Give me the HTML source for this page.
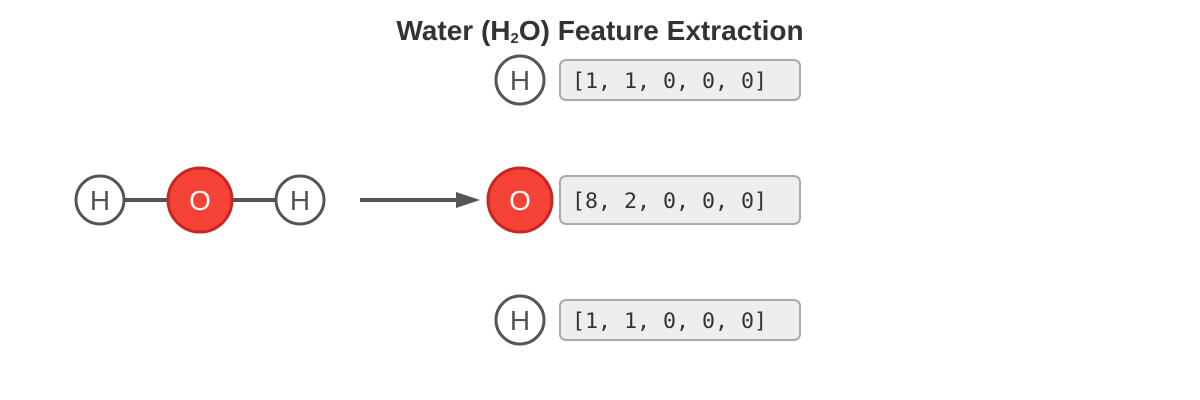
<!DOCTYPE html>
<html><head><meta charset="utf-8"><style>
html,body{margin:0;padding:0;background:#fff;width:1200px;height:400px;overflow:hidden}
text{font-family:"Liberation Sans",sans-serif}
.mono{font-family:"DejaVu Sans Mono","Liberation Mono",monospace}
</style></head><body>
<svg width="1200" height="400" viewBox="0 0 1200 400">
<text x="600" y="40" text-anchor="middle" font-size="28" font-weight="bold" fill="#333">Water (H<tspan font-size="15" dy="3">2</tspan><tspan dy="-3">O) Feature Extraction</tspan></text>
<g>
<line x1="120" y1="200" x2="280" y2="200" stroke="#555" stroke-width="4"/>
<circle cx="100" cy="200" r="24" fill="#fff" stroke="#555" stroke-width="3"/>
<text x="100" y="210" text-anchor="middle" font-size="28" fill="#555">H</text>
<circle cx="200" cy="200" r="32" fill="#f44336" stroke="#c62828" stroke-width="3"/>
<text x="200" y="210" text-anchor="middle" font-size="28" fill="#fff">O</text>
<circle cx="300" cy="200" r="24" fill="#fff" stroke="#555" stroke-width="3"/>
<text x="300" y="210" text-anchor="middle" font-size="28" fill="#555">H</text>
</g>
<g>
<line x1="360" y1="200" x2="458" y2="200" stroke="#555" stroke-width="4"/>
<polygon points="456,192 480,200 456,208" fill="#555"/>
</g>
<g>
<circle cx="520" cy="80" r="24" fill="#fff" stroke="#555" stroke-width="3"/>
<text x="520" y="90" text-anchor="middle" font-size="28" fill="#555">H</text>
<rect x="560" y="60" width="240" height="40" rx="6" fill="#eee" stroke="#aaa" stroke-width="2"/>
<text class="mono" x="572" y="88" font-size="21.6" fill="#333">[1, 1, 0, 0, 0]</text>
</g>
<g>
<circle cx="520" cy="200" r="32" fill="#f44336" stroke="#c62828" stroke-width="3"/>
<text x="520" y="210" text-anchor="middle" font-size="28" fill="#fff">O</text>
<rect x="560" y="176" width="240" height="48" rx="6" fill="#eee" stroke="#aaa" stroke-width="2"/>
<text class="mono" x="572" y="208" font-size="21.6" fill="#333">[8, 2, 0, 0, 0]</text>
</g>
<g>
<circle cx="520" cy="320" r="24" fill="#fff" stroke="#555" stroke-width="3"/>
<text x="520" y="330" text-anchor="middle" font-size="28" fill="#555">H</text>
<rect x="560" y="300" width="240" height="40" rx="6" fill="#eee" stroke="#aaa" stroke-width="2"/>
<text class="mono" x="572" y="328" font-size="21.6" fill="#333">[1, 1, 0, 0, 0]</text>
</g>
</svg>
</body></html>
